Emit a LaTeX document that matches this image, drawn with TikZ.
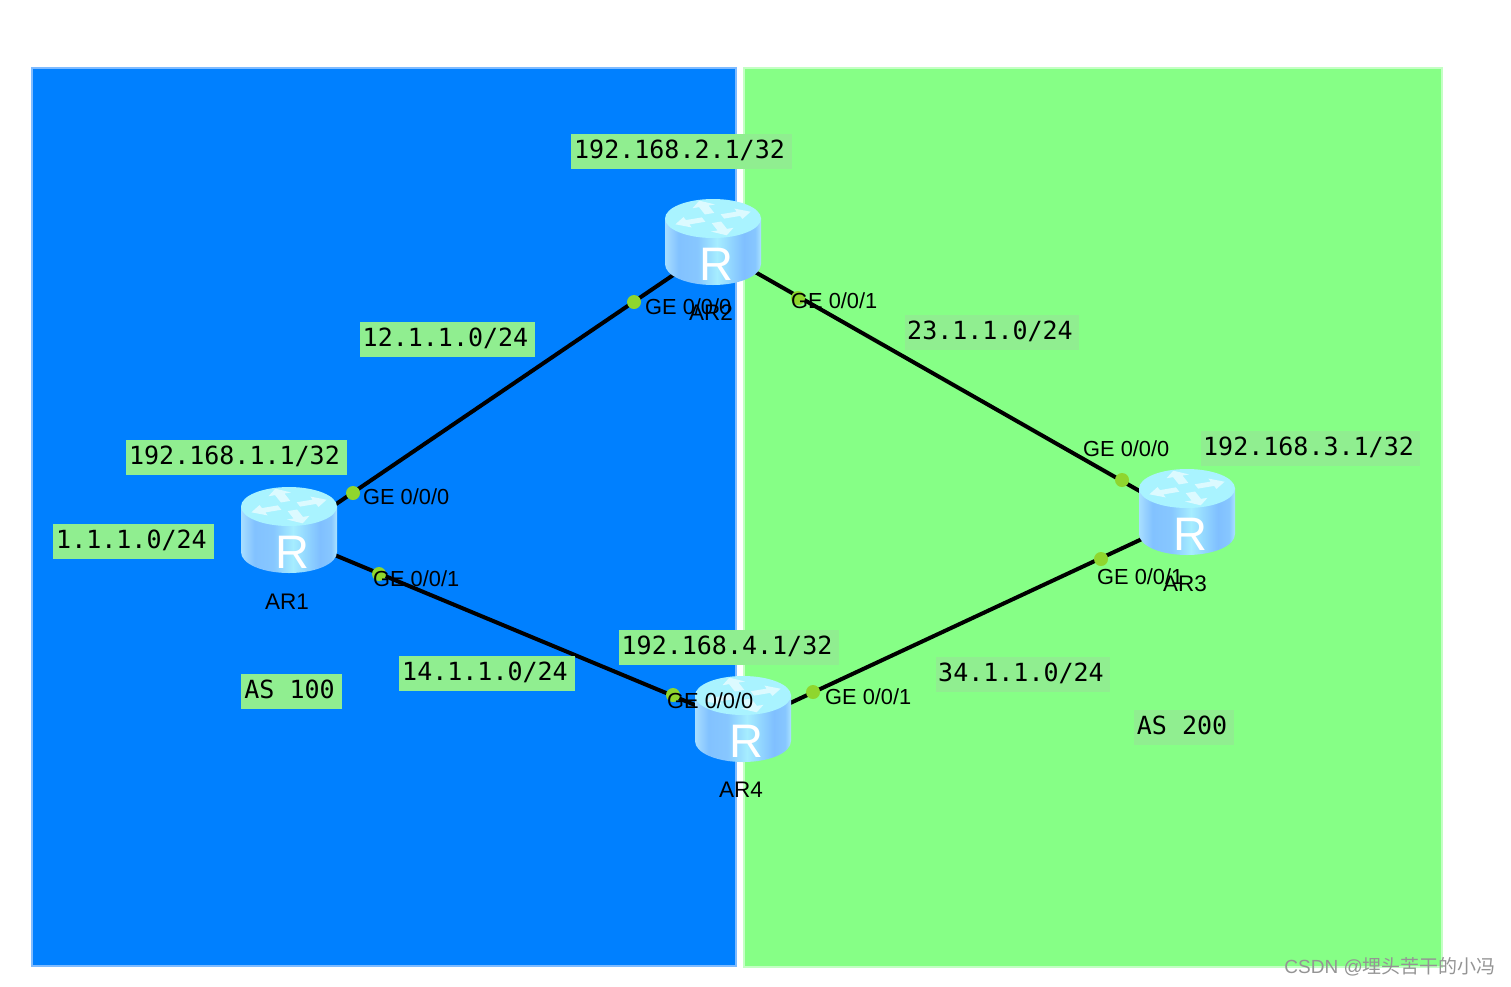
\documentclass[tikz,border=0pt]{standalone}
\usepackage{fontspec}
\setmainfont{Liberation Sans}
\newfontfamily\labelmono{DejaVu Sans Mono}
\newfontfamily\cjkface{Noto Sans CJK SC}
\definecolor{asblue}{HTML}{0080FF}
\definecolor{asblueedge}{HTML}{7FBBFF}
\definecolor{asgreen}{HTML}{86FF86}
\definecolor{asgreenedge}{HTML}{C4FFC4}
\definecolor{notebg}{HTML}{90EE90}
\definecolor{portdot}{HTML}{8FD62E}
\definecolor{rimtop}{HTML}{A9F3FF}
\pgfdeclarehorizontalshading{routerside}{100bp}{
  rgb(0bp)=(.66,.87,1);
  rgb(25bp)=(.66,.87,1);
  rgb(32bp)=(.51,.76,1);
  rgb(42bp)=(.53,.78,1);
  rgb(52bp)=(.65,.93,1);
  rgb(66bp)=(.50,.75,1);
  rgb(72bp)=(.53,.78,1);
  rgb(75bp)=(.67,.89,1);
  rgb(100bp)=(.67,.89,1)}
\tikzset{
  x=1pt, y=-1pt,
  panelblue/.style={fill=asblue, draw=asblueedge, line width=1.5pt},
  panelgreen/.style={fill=asgreen, draw=asgreenedge, line width=1.5pt},
  note/.style={fill=notebg, text=black, anchor=center, inner sep=0pt,
    minimum height=35pt, font=\labelmono\fontsize{25}{26}\selectfont},
  notetext/.style={anchor=center, inner sep=0pt, text=black,
    font=\labelmono\fontsize{25}{26}\selectfont},
  portlabel/.style={anchor=west, inner sep=0pt, text=black,
    font=\fontsize{21.8}{24}\selectfont},
  devlabel/.style={anchor=center, inner sep=0pt, text=black,
    font=\fontsize{22.5}{24}\selectfont},
  dot/.style={circle, fill=portdot, minimum size=14pt, inner sep=0pt},
  link/.style={draw=black, line width=4pt},
  hub/.style={inner sep=0pt, minimum size=0pt},
  turnarrow/.style={fill=white, fill opacity=.6},
  routericon/.pic={
    \path[shading=routerside]
      (-48,-30) -- (-48,16) .. controls (-48,28) and (-26,37) .. (0,37)
      .. controls (26,37) and (48,28) .. (48,16) -- (48,-30) -- cycle;
    \fill[rimtop] (0,-29.5) ellipse [x radius=48, y radius=19.5];
    \begin{scope}[shift={(0,-30)}, yscale=.46]
      \foreach \a in {20,110,200,290} {
        \fill[turnarrow, rotate=\a]
          (10,-5) -- (27,-5) -- (27,-12) -- (40,0) -- (27,12) -- (27,5) -- (10,5) -- cycle;
      }
    \end{scope}
    \node[inner sep=0pt, text=white, font=\fontsize{47}{47}\selectfont] at (3,16) {R};
  },
}
\begin{document}
\begin{tikzpicture}
\useasboundingbox (0,0) rectangle (1511,986);
\fill[white] (0,0) rectangle (1511,986);

% autonomous system areas
\path[panelblue] (32,68) rectangle (736,966);
\path[panelgreen] (744,68) rectangle (1442,967);

% router anchors
\node[hub] (AR1) at (289,536) {};
\node[hub] (AR2) at (713,248) {};
\node[hub] (AR3) at (1187,518) {};
\node[hub] (AR4) at (743,725) {};

% links
\draw[link] (AR1.center) -- (AR2.center);
\draw[link] (AR2.center) -- (AR3.center);
\draw[link] (AR3.center) -- (AR4.center);
\draw[link] (AR1.center) -- (AR4.center);

% interface markers
\node[dot] (p1a) at (353,493) {};
\node[dot] (p1b) at (379,574) {};
\node[dot] (p2a) at (634,302) {};
\node[dot] (p2b) at (798,298) {};
\node[dot] (p3a) at (1122,480) {};
\node[dot] (p3b) at (1101,559) {};
\node[dot] (p4a) at (673,695) {};
\node[dot] (p4b) at (813,692) {};

% routers
\pic at (AR1) {routericon};
\pic at (AR2) {routericon};
\pic at (AR3) {routericon};
\pic at (AR4) {routericon};

% device names
\node[devlabel] (n1) at (287,602) {AR1};
\node[devlabel] (n2) at (711,313) {AR2};
\node[devlabel] (n3) at (1185,584) {AR3};
\node[devlabel] (n4) at (741,790) {AR4};

% interface names
\node[portlabel] (g1a) at (363,497) {GE 0/0/0};
\node[portlabel] (g1b) at (373,579) {GE 0/0/1};
\node[portlabel] (g2a) at (645,307) {GE 0/0/0};
\node[portlabel] (g2b) at (791,301) {GE 0/0/1};
\node[portlabel] (g3a) at (1083,449) {GE 0/0/0};
\node[portlabel] (g3b) at (1097,577) {GE 0/0/1};
\node[portlabel] (g4a) at (667,701) {GE 0/0/0};
\node[portlabel] (g4b) at (825,697) {GE 0/0/1};

% address notes: a filled box with its text set slightly above the middle
\node[note, minimum width=221pt, text height=18pt, text depth=4pt] (t1) at (681.5,151) {\hspace*{-4pt}192.168.2.1/32};
\node[note, minimum width=175pt, text height=18pt, text depth=4pt] (t2) at (447.5,339) {\hspace*{-4pt}12.1.1.0/24};
\node[note, minimum width=174pt, text height=18pt, text depth=4pt] (t3) at (992,332.5) {\hspace*{-4pt}23.1.1.0/24};
\node[note, minimum width=221pt, text height=18pt, text depth=4pt] (t4) at (236.5,457.5) {\hspace*{-4pt}192.168.1.1/32};
\node[note, minimum width=161pt, text height=18pt, text depth=4pt] (t5) at (133.5,541.5) {\hspace*{-4pt}1.1.1.0/24};
\node[note, minimum width=219pt, text height=18pt, text depth=4pt] (t6) at (1310.5,448.5) {\hspace*{-4pt}192.168.3.1/32};
\node[note, minimum width=176pt, text height=18pt, text depth=4pt] (t7) at (487,673.5) {\hspace*{-4pt}14.1.1.0/24};
\node[note, minimum width=220pt, text height=18pt, text depth=4pt] (t8) at (729,647.5) {\hspace*{-4pt}192.168.4.1/32};
\node[note, minimum width=174pt, text height=18pt, text depth=4pt] (t9) at (1023,674.5) {\hspace*{-4pt}34.1.1.0/24};
\node[note, minimum width=101pt, text height=18pt, text depth=4pt] (t10) at (291.5,691.5) {\hspace*{-4pt}AS 100};
\node[note, minimum width=100pt, text height=18pt, text depth=4pt] (t11) at (1184,727.5) {\hspace*{-4pt}AS 200};

% image credit
\node[anchor=east, inner sep=0pt, text=black!42, font=\fontsize{19}{21}\selectfont] (credit)
  at (1496,967) {CSDN @{\cjkface 埋头苦干的小冯}};
\end{tikzpicture}
\end{document}
